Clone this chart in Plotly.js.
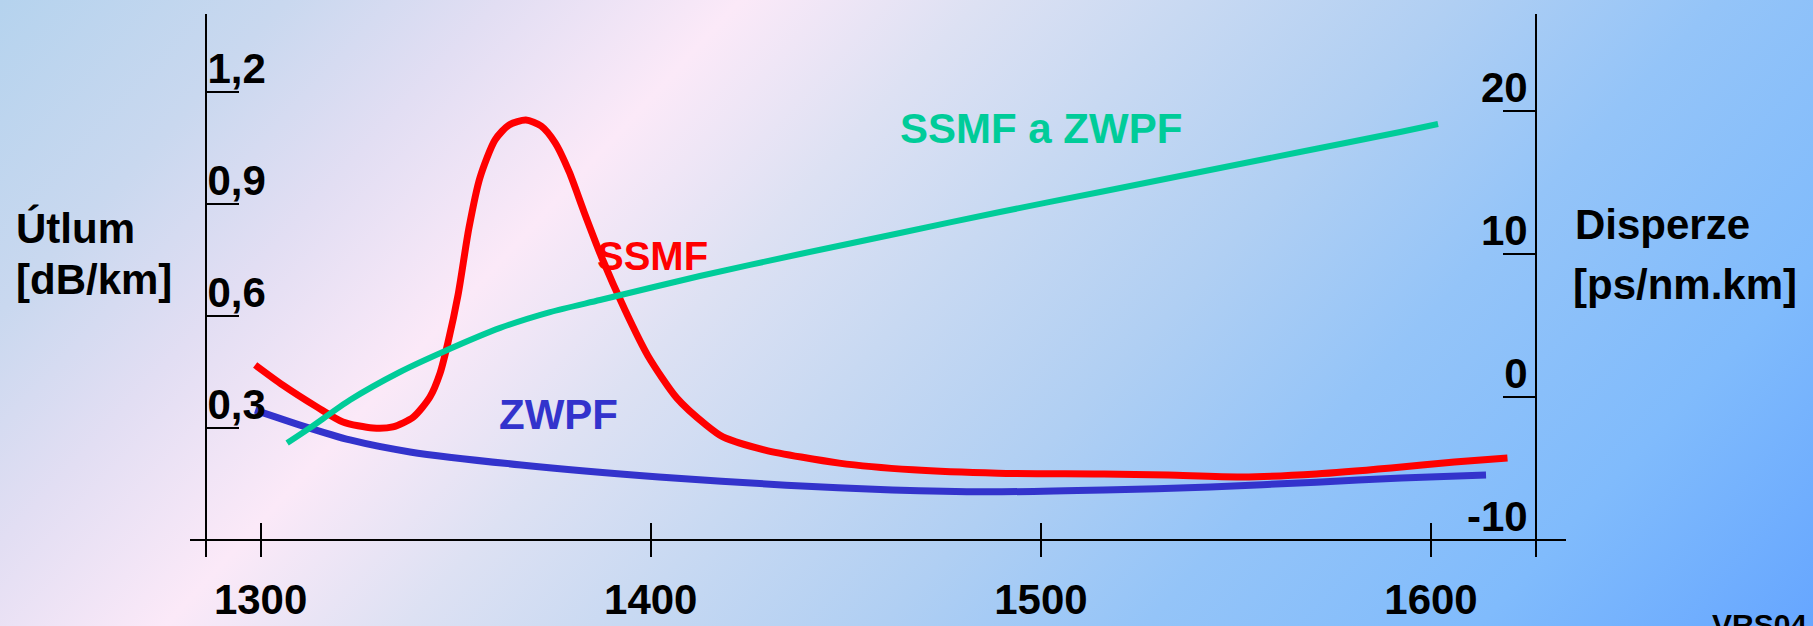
<!DOCTYPE html>
<html>
<head>
<meta charset="utf-8">
<script src="https://cdn.plot.ly/plotly-3.0.1.min.js"></script>
<style>
html,body{margin:0;padding:0;overflow:hidden;}
#chart{width:1813px;height:626px;background:linear-gradient(132.6deg,#B5D3EE 0%,#C9D8EF 12%,#E2DEF3 21%,#FBE9F8 31%,#DDE1F3 41%,#C8D9F2 50%,#B0CFF3 61%,#94C4F8 72%,#80BBFC 86%,#66A6FF 100%);}
</style>
</head>
<body>
<div id="chart"></div>
<script>
// Wavelength ticks [nm]
const xTickVals = [1300, 1400, 1500, 1600];
const xTickText = ['1300', '1400', '1500', '1600'];
// Left axis: attenuation [dB/km]
const attTickVals = [0.3, 0.6, 0.9, 1.2];
const attTickText = ['0,3', '0,6', '0,9', '1,2'];
// Right axis: dispersion [ps/nm.km]
const dispTickVals = [-10, 0, 10, 20];
const dispTickText = ['-10', '0', '10', '20'];

// SSMF attenuation (red)
const ssmfWl = [1298.6,1305.7,1314.5,1321.1,1328.8,1333.9,1339.1,1343.4,1346.0,1348.0,1350.6,1353.4,1356.2,1360.1,1363.7,1368.0,1371.9,1375.5,1379.1,1382.9,1387.5,1393.4,1399.3,1406.7,1414.2,1418.5,1429.3,1448.3,1467.2,1489.0,1516.2,1532.6,1551.6,1570.6,1589.8,1606.0,1619.6];
const ssmfAtt = [0.469,0.415,0.356,0.316,0.300,0.303,0.329,0.383,0.447,0.528,0.656,0.836,0.970,1.072,1.112,1.125,1.109,1.064,0.986,0.879,0.755,0.616,0.493,0.380,0.308,0.276,0.241,0.206,0.188,0.179,0.177,0.174,0.169,0.177,0.193,0.209,0.220];

// ZWPF attenuation (blue)
const zwpfWl = [1298.6,1310.1,1322.9,1338.3,1366.8,1402.1,1434.7,1461.9,1486.5,1516.2,1543.4,1570.6,1592.4,1614.1];
const zwpfAtt = [0.348,0.308,0.268,0.236,0.201,0.169,0.147,0.134,0.129,0.134,0.142,0.155,0.166,0.174];

// SSMF and ZWPF dispersion (green)
const dispWl = [1306.8,1312.6,1322.9,1335.7,1346.7,1361.4,1374.2,1387.0,1412.6,1438.3,1463.9,1489.5,1515.2,1540.8,1566.4,1592.1,1601.8];
const dispVal = [-3.22,-2.17,-0.21,1.75,3.15,4.83,5.94,6.78,8.46,10.0,11.47,12.94,14.34,15.73,17.13,18.53,19.09];

const W = 1813, H = 626;
const FONT = 'Liberation Sans, Arial, Helvetica, sans-serif';
const px = v => v / W;
const py = v => 1 - v / H;

const traces = [
  {x: ssmfWl, y: ssmfAtt, type: 'scatter', mode: 'lines', name: 'SSMF',
   line: {color: '#FF0000', width: 7, shape: 'spline', smoothing: 0.7}, yaxis: 'y'},
  {x: zwpfWl, y: zwpfAtt, type: 'scatter', mode: 'lines', name: 'ZWPF',
   line: {color: '#3333CC', width: 7, shape: 'spline', smoothing: 0.7}, yaxis: 'y'},
  {x: dispWl, y: dispVal, type: 'scatter', mode: 'lines', name: 'SSMF a ZWPF',
   line: {color: '#00CC99', width: 6, shape: 'spline', smoothing: 0.7}, yaxis: 'y2'}
];

const tickFont = {family: FONT, size: 42, color: '#000000', weight: 700};
const yDomain = [py(557), py(14)];

const layout = {
  width: W, height: H,
  margin: {l: 0, r: 0, t: 0, b: 0},
  paper_bgcolor: 'rgba(0,0,0,0)',
  plot_bgcolor: 'rgba(0,0,0,0)',
  showlegend: false,
  xaxis: {
    domain: [px(190), px(1566)],
    range: [1281.9, 1634.6],
    anchor: 'y',
    showline: false, showgrid: false, zeroline: false,
    ticks: 'inside', ticklen: 34, tickwidth: 2, tickcolor: '#000000',
    tickvals: xTickVals, ticktext: xTickText,
    tickfont: tickFont, ticklabelstandoff: 14
  },
  yaxis: {
    domain: yDomain,
    range: [-0.0455, 1.4091],
    anchor: 'free', position: px(206), side: 'right',
    showline: true, linecolor: '#000000', linewidth: 2,
    showgrid: false,
    zeroline: true, zerolinecolor: '#000000', zerolinewidth: 2,
    ticks: 'outside', ticklen: 32, tickwidth: 2, tickcolor: '#000000',
    tickvals: attTickVals, ticktext: attTickText,
    ticklabelstandoff: -40, ticklabelshift: -24,
    tickfont: tickFont
  },
  yaxis2: {
    domain: yDomain,
    range: [-11.189, 26.783],
    overlaying: 'y',
    anchor: 'free', position: px(1536), side: 'left',
    showline: true, linecolor: '#000000', linewidth: 2,
    showgrid: false, zeroline: false,
    ticks: 'outside', ticklen: 32, tickwidth: 2, tickcolor: '#000000',
    tickvals: dispTickVals, ticktext: dispTickText,
    ticklabelstandoff: -33, ticklabelshift: -24,
    tickfont: tickFont
  },
  annotations: [
    {text: 'Útlum', xref: 'paper', yref: 'paper', x: px(14), y: py(228), xanchor: 'left', yanchor: 'middle', showarrow: false,
     font: {family: FONT, size: 42, color: '#000000', weight: 700}},
    {text: '[dB/km]', xref: 'paper', yref: 'paper', x: px(14), y: py(279), xanchor: 'left', yanchor: 'middle', showarrow: false,
     font: {family: FONT, size: 42, color: '#000000', weight: 700}},
    {text: 'Disperze', xref: 'paper', yref: 'paper', x: px(1573), y: py(225), xanchor: 'left', yanchor: 'middle', showarrow: false,
     font: {family: FONT, size: 42, color: '#000000', weight: 700}},
    {text: '[ps/nm.km]', xref: 'paper', yref: 'paper', x: px(1571), y: py(284), xanchor: 'left', yanchor: 'middle', showarrow: false,
     font: {family: FONT, size: 42, color: '#000000', weight: 700}},
    {text: 'SSMF a ZWPF', xref: 'paper', yref: 'paper', x: px(1041), y: py(129), xanchor: 'center', yanchor: 'middle', showarrow: false,
     font: {family: FONT, size: 42, color: '#00CC99', weight: 700}},
    {text: 'SSMF', xref: 'paper', yref: 'paper', x: px(652), y: py(256), xanchor: 'center', yanchor: 'middle', showarrow: false,
     font: {family: FONT, size: 40, color: '#FF0000', weight: 700}},
    {text: 'ZWPF', xref: 'paper', yref: 'paper', x: px(558), y: py(414), xanchor: 'center', yanchor: 'middle', showarrow: false,
     font: {family: FONT, size: 42, color: '#3333CC', weight: 700}},
    {text: 'VRS04', xref: 'paper', yref: 'paper', x: px(1710), y: py(624), xanchor: 'left', yanchor: 'middle', showarrow: false,
     font: {family: FONT, size: 30, color: '#000000', weight: 700}}
  ]
};

Plotly.newPlot('chart', traces, layout, {displayModeBar: false, staticPlot: true});
</script>
</body>
</html>
